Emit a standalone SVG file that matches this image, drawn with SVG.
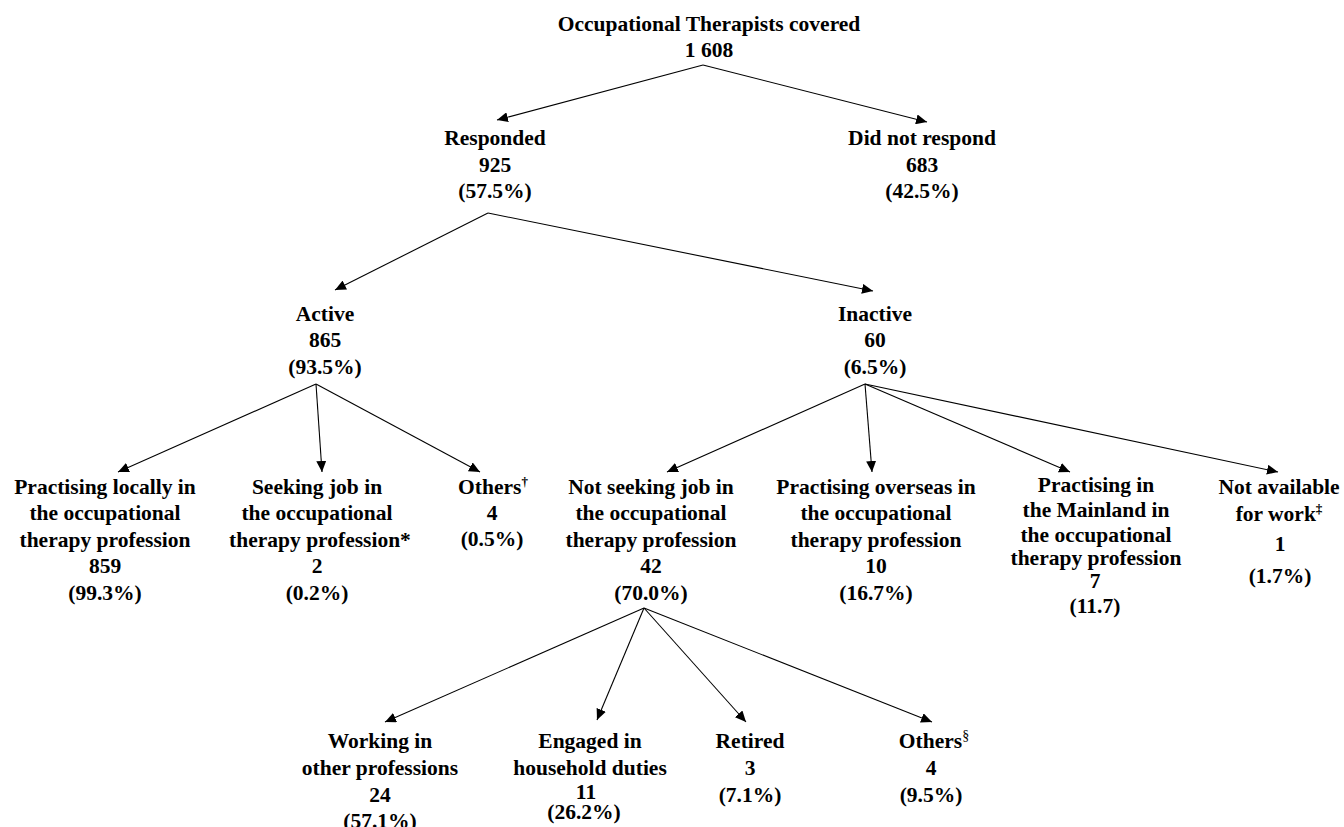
<svg xmlns="http://www.w3.org/2000/svg" width="1344" height="827" viewBox="0 0 1344 827">
<defs>
<style>
.t{font-family:"Liberation Serif","Times New Roman",serif;font-weight:bold;font-size:21.5px;text-anchor:middle;fill:#000}
.sup{font-size:13px}
.sec{font-size:14px;font-weight:normal}
.c line{stroke:#000;stroke-width:1.1;fill:none;marker-end:url(#ah)}
</style>
<marker id="ah" markerWidth="12" markerHeight="10" refX="11" refY="5" orient="auto" markerUnits="userSpaceOnUse">
<path d="M0,0 L11,5 L0,10 z" fill="#000"/>
</marker>
</defs>
<rect width="1344" height="827" fill="#fff"/>
<g id="connectors" class="c">
<line x1="703" y1="65" x2="497" y2="120"/>
<line x1="703" y1="65" x2="927" y2="122"/>
<line x1="488" y1="213" x2="335" y2="290"/>
<line x1="488" y1="213" x2="873" y2="291"/>
<line x1="316" y1="384" x2="118" y2="472"/>
<line x1="316" y1="384" x2="322" y2="472"/>
<line x1="316" y1="384" x2="480" y2="472"/>
<line x1="865" y1="384" x2="667" y2="472"/>
<line x1="865" y1="384" x2="872" y2="472"/>
<line x1="865" y1="384" x2="1070" y2="472"/>
<line x1="865" y1="384" x2="1278" y2="472"/>
<line x1="644" y1="608" x2="385" y2="722"/>
<line x1="644" y1="608" x2="597" y2="720"/>
<line x1="644" y1="608" x2="746" y2="722"/>
<line x1="644" y1="608" x2="932" y2="722"/>
</g>
<g id="n-covered" class="t">
<text x="709" y="31">Occupational Therapists covered</text>
<text x="709" y="57">1 608</text>
</g>
<g id="n-responded" class="t">
<text x="495" y="145">Responded</text>
<text x="495" y="172">925</text>
<text x="495" y="198">(57.5%)</text>
</g>
<g id="n-notresponded" class="t">
<text x="922" y="145">Did not respond</text>
<text x="922" y="172">683</text>
<text x="922" y="198">(42.5%)</text>
</g>
<g id="n-active" class="t">
<text x="325" y="321">Active</text>
<text x="325" y="347">865</text>
<text x="325" y="374">(93.5%)</text>
</g>
<g id="n-inactive" class="t">
<text x="875" y="321">Inactive</text>
<text x="875" y="347">60</text>
<text x="875" y="374">(6.5%)</text>
</g>
<g id="n-local" class="t">
<text x="105" y="494">Practising locally in</text>
<text x="105" y="520">the occupational</text>
<text x="105" y="547">therapy profession</text>
<text x="105" y="573">859</text>
<text x="105" y="600">(99.3%)</text>
</g>
<g id="n-seeking" class="t">
<text x="317" y="494">Seeking job in</text>
<text x="317" y="520">the occupational</text>
<text x="320" y="547">therapy profession*</text>
<text x="317" y="573">2</text>
<text x="317" y="600">(0.2%)</text>
</g>
<g id="n-others1" class="t">
<text x="493" y="494">Others<tspan class="sup" dy="-8">†</tspan></text>
<text x="492" y="520">4</text>
<text x="492" y="546">(0.5%)</text>
</g>
<g id="n-notseeking" class="t">
<text x="651" y="494">Not seeking job in</text>
<text x="651" y="520">the occupational</text>
<text x="651" y="547">therapy profession</text>
<text x="651" y="573">42</text>
<text x="651" y="600">(70.0%)</text>
</g>
<g id="n-overseas" class="t">
<text x="876" y="494">Practising overseas in</text>
<text x="876" y="520">the occupational</text>
<text x="876" y="547">therapy profession</text>
<text x="876" y="573">10</text>
<text x="876" y="600">(16.7%)</text>
</g>
<g id="n-mainland" class="t">
<text x="1096" y="492">Practising in</text>
<text x="1096" y="517">the Mainland in</text>
<text x="1096" y="542">the occupational</text>
<text x="1096" y="565">therapy profession</text>
<text x="1095" y="588">7</text>
<text x="1095" y="613">(11.7)</text>
</g>
<g id="n-notavailable" class="t">
<text x="1279" y="494">Not available</text>
<text x="1279" y="521">for work<tspan class="sup" dy="-8">‡</tspan></text>
<text x="1280" y="551">1</text>
<text x="1280" y="583">(1.7%)</text>
</g>
<g id="n-working" class="t">
<text x="380" y="748">Working in</text>
<text x="380" y="775">other professions</text>
<text x="380" y="802">24</text>
<text x="380" y="828">(57.1%)</text>
</g>
<g id="n-household" class="t">
<text x="590" y="748">Engaged in</text>
<text x="590" y="775">household duties</text>
<text x="586" y="799">11</text>
<text x="584" y="819">(26.2%)</text>
</g>
<g id="n-retired" class="t">
<text x="750" y="748">Retired</text>
<text x="750" y="775">3</text>
<text x="750" y="802">(7.1%)</text>
</g>
<g id="n-others2" class="t">
<text x="934" y="748">Others<tspan class="sec" dy="-8">§</tspan></text>
<text x="931" y="775">4</text>
<text x="931" y="802">(9.5%)</text>
</g>
</svg>
